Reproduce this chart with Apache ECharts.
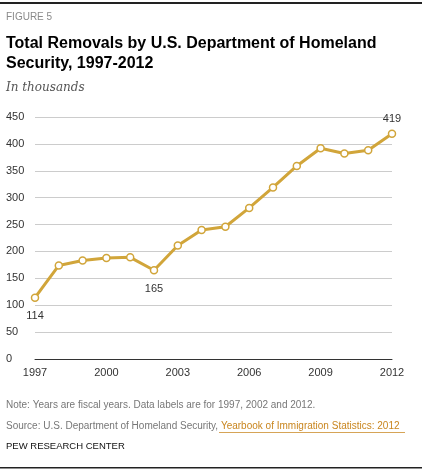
<!DOCTYPE html>
<html><head><meta charset="utf-8">
<script src="https://cdn.jsdelivr.net/npm/echarts@6/dist/echarts.min.js"></script>
<style>body{margin:0;background:#fff}#c{width:422px;height:471px}</style>
</head><body><div id="c"></div>
<script>
const years = ['1997','1998','1999','2000','2001','2002','2003','2004','2005','2006','2007','2008','2009','2010','2011','2012'];
const removals = [114,174,183,188,189,165,211,240,246,281,319,359,392,382,388,419];
const yTicks = [0,50,100,150,200,250,300,350,400,450];
const labelled = ['1997','2002','2012'];

const chart = echarts.init(document.getElementById('c'));
const sans = 'Liberation Sans, Arial, sans-serif';
chart.setOption({
  animation: false,
  graphic: [
    {type:'rect', shape:{x:0,y:2,width:422,height:2}, style:{fill:'#222'}},
    {type:'text', left:6, top:12, style:{text:'FIGURE 5', fill:'#8a8a8a', font:'10px '+sans}},
    {type:'text', left:6, top:34, style:{text:'Total Removals by U.S. Department of Homeland\nSecurity, 1997-2012', fill:'#000', font:'bold 16px '+sans, lineHeight:20}},
    {type:'text', left:6, top:82, style:{text:'In thousands', fill:'#555', font:'italic 12px Georgia, DejaVu Serif, serif'}},
    {type:'text', left:6, top:400, style:{text:'Note: Years are fiscal years. Data labels are for 1997, 2002 and 2012.', fill:'#777', font:'10px '+sans}},
    {type:'text', left:6, top:421, style:{rich:{a:{fill:'#777', font:'10px '+sans}, b:{fill:'#c9861f', font:'10px '+sans}}, text:'{a|Source: U.S. Department of Homeland Security, }{b|Yearbook of Immigration Statistics: 2012}'}},
    {type:'rect', shape:{x:219,y:432,width:186,height:0.8}, style:{fill:'#c9861f'}},
    {type:'text', left:6, top:441, style:{text:'PEW RESEARCH CENTER', fill:'#111', font:'9.5px '+sans}},
    {type:'rect', shape:{x:0,y:467,width:422,height:1.5}, style:{fill:'#222'}}
  ],
  grid: {left:35, right:30, top:117, bottom:112},
  xAxis: {
    type:'category', data:years, boundaryGap:false,
    axisLine:{lineStyle:{color:'#333'}}, axisTick:{show:false},
    axisLabel:{color:'#333', fontSize:11, fontFamily:sans, margin:8,
      interval:(i)=>i%3===0}
  },
  yAxis: {
    type:'value', min:0, max:450, interval:50,
    axisLine:{show:false}, axisTick:{show:false},
    splitLine:{lineStyle:{color:'#ccc'}},
    axisLabel:{color:'#333', fontSize:11, fontFamily:sans, align:'left', margin:29,
      formatter:(v)=>yTicks.includes(v)?String(v):''}
  },
  series: [{
    type:'line', data:removals,
    lineStyle:{color:'#d1a53a', width:3},
    symbol:'circle', symbolSize:7,
    itemStyle:{color:'#fff', borderColor:'#d1a53a', borderWidth:1.5},
    label:{show:true, color:'#333', fontSize:11, fontFamily:sans,
      formatter:(p)=>labelled.includes(p.name)?String(p.value):'',
      position:'top'},
    labelLayout:(p)=>{
      if(p.dataIndex===0||p.dataIndex===5) return {dy:p.labelRect.height+22};
      return {};
    }
  }]
});
</script></body></html>
